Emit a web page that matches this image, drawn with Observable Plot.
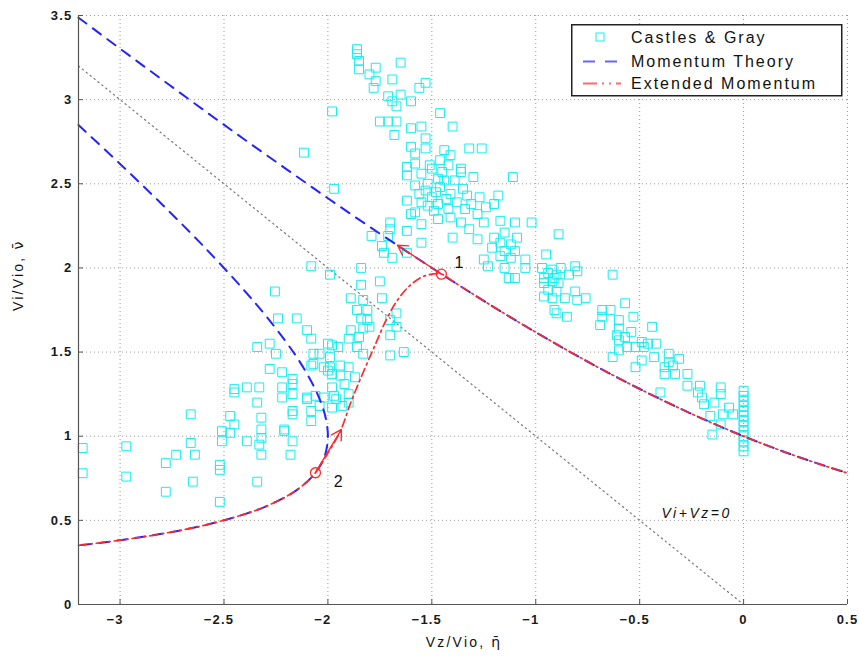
<!DOCTYPE html>
<html><head><meta charset="utf-8">
<script src="https://cdn.jsdelivr.net/npm/d3@7"></script>
<script src="https://cdn.jsdelivr.net/npm/@observablehq/plot@0.6"></script>
<style>
body{margin:0;background:#fff;}
#wrap{position:relative;width:859px;height:665px;}
#legend{position:absolute;left:571px;top:24px;}
</style></head><body><div id="wrap"></div>
<script>
// ---- axes ----
const xTicks = [-3, -2.5, -2, -1.5, -1, -0.5, 0, 0.5];
const yTicks = [0, 0.5, 1, 1.5, 2, 2.5, 3, 3.5];
const xDomain = [-3.2, 0.5];
const yDomain = [0, 3.5];

// ---- Castles & Gray data [eta, nu] ----
const castlesUpper = [
[-1.86,3.30],[-1.86,3.27],[-1.85,3.23],[-1.85,3.18],[-1.77,3.19],[-1.80,3.15],[-1.65,3.22],[-1.77,3.11],[-1.78,3.07],[-1.69,3.12],
[-1.53,3.10],[-1.56,3.07],[-1.71,3.02],[-1.69,2.99],[-1.65,3.03],[-1.60,2.99],[-1.67,2.96],[-1.98,2.93],[-1.46,2.92],[-1.75,2.87],
[-1.71,2.87],[-1.67,2.87],[-1.60,2.83],[-1.55,2.84],[-1.40,2.84],[-1.68,2.79],[-1.53,2.77],[-1.60,2.72],[-1.53,2.71],[-1.58,2.68],
[-1.44,2.70],[-1.32,2.71],[-1.26,2.71],[-1.41,2.67],[-1.46,2.64],[-1.58,2.62],[-1.51,2.61],[-1.36,2.59],[-1.50,2.59],[-1.55,2.56],
[-1.47,2.53],[-1.36,2.57],[-1.30,2.54],[-1.11,2.54],[-1.97,2.47],[-1.58,2.49],[-1.53,2.46],[-1.46,2.48],[-1.41,2.44],[-1.50,2.42],
[-1.62,2.40],[-1.55,2.39],[-1.47,2.38],[-1.38,2.39],[-1.31,2.38],[-1.18,2.43],[-1.20,2.38],[-1.42,2.35],[-1.49,2.34],[-1.60,2.32],
[-1.28,2.32],[-1.41,2.30],[-1.25,2.27],[-1.70,2.27],[-1.55,2.26],[-1.17,2.28],[-1.10,2.27],[-1.02,2.27],[-1.32,2.23],[-1.62,2.22],
[-1.70,2.23],[-1.79,2.19],[-1.71,2.19],[-1.40,2.18],[-1.28,2.17],[-1.20,2.18],[-1.15,2.21],[-1.09,2.18],[-0.89,2.20],[-1.55,2.15],
[-1.17,2.15],[-1.12,2.14],[-1.74,2.13],[-1.21,2.12],[-1.15,2.10],[-1.10,2.10],[-1.73,2.09],[-1.62,2.09],[-1.17,2.07],[-0.95,2.08],
[-1.69,2.06],[-1.25,2.05],[-1.12,2.06],[-1.05,2.05],[-1.84,2.00],[-1.23,2.01],[-1.15,2.00],[-1.05,2.00],[-0.97,2.00],[-0.92,1.99],
[-0.88,2.00],[-1.75,1.92],[-1.84,1.90],[-1.13,1.94],[-1.10,1.94],[-0.96,1.94],[-0.91,1.94],
[-1.52,2.50],[-1.44,2.52],[-1.48,2.45],[-1.35,2.47],[-1.43,2.41],[-1.33,2.43],[-1.56,2.44],[-1.39,2.52],[-1.45,2.57],[-1.62,2.55],
[-1.27,2.42],[-1.34,2.35],[-1.24,2.36],[-1.52,2.37],[-1.58,2.33],[-1.36,2.27],[-1.47,2.29],[-1.62,2.60],[-1.42,2.61]
];
const castlesRight = [
[-0.94,1.97],[-0.90,1.96],[-0.81,2.01],[-0.84,1.96],[-0.80,1.98],[-0.63,1.96],[-0.96,1.91],[-0.92,1.92],[-0.89,1.91],[-0.94,1.87],
[-0.90,1.86],[-0.96,1.83],[-0.92,1.82],[-0.86,1.82],[-0.81,1.86],[-0.80,1.81],[-0.76,1.82],[-0.91,1.75],[-0.90,1.73],[-0.85,1.71],
[-0.57,1.79],[-0.68,1.75],[-0.64,1.75],[-0.68,1.71],[-0.53,1.71],[-0.60,1.69],[-0.69,1.66],[-0.44,1.65],[-0.60,1.64],[-0.54,1.62],
[-0.61,1.60],[-0.57,1.59],[-0.60,1.57],[-0.49,1.56],[-0.46,1.55],[-0.42,1.55],[-0.56,1.53],[-0.52,1.53],[-0.48,1.53],[-0.60,1.51],
[-0.43,1.47],[-0.36,1.49],[-0.31,1.46],[-0.63,1.47],[-0.49,1.45],[-0.36,1.44],[-0.52,1.41],[-0.38,1.41],[-0.34,1.42],[-0.38,1.37],
[-0.33,1.37],[-0.27,1.37],[-0.27,1.30],[-0.21,1.30],[-0.11,1.29],[-0.40,1.26],[-0.22,1.26],[-0.20,1.23],[-0.11,1.25],[-0.14,1.20],
[-0.19,1.19],[-0.07,1.17],[-0.10,1.13],[-0.16,1.12],[-0.05,1.13],[-0.11,1.07],[-0.15,1.01],
[0,1.27],[0,1.24],[0,1.21],[0,1.18],[0,1.15],[0,1.12],[0,1.09],[0,1.06],[0,1.03],[0,1.00],[0,0.97],[0,0.94],[0,0.91]
];
const castlesLeft = [
[-2.115,2.685],[-2.08,2.01],[-1.99,1.96],[-2.255,1.86],[-2.24,1.70],[-2.15,1.70],[-2.10,1.63],[-2.08,1.58],[-2.34,1.53],[-2.28,1.55],
[-2.25,1.49],[-2.04,1.49],[-2.00,1.55],[-1.99,1.47],[-2.08,1.42],[-2.28,1.40],[-2.22,1.38],[-2.17,1.34],[-2.17,1.31],[-2.00,1.39],
[-2.45,1.28],[-2.39,1.29],[-2.22,1.29],[-1.89,1.82],[-1.83,1.81],[-1.74,1.82],[-1.86,1.75],[-1.81,1.75],[-1.67,1.73],[-1.84,1.70],
[-1.81,1.69],[-1.70,1.69],[-1.67,1.65],[-1.89,1.63],[-1.83,1.64],[-1.80,1.65],[-1.70,1.60],[-1.90,1.58],[-1.85,1.59],[-1.98,1.54],
[-1.95,1.53],[-1.86,1.53],[-1.83,1.49],[-1.70,1.48],[-1.635,1.50],[-2.07,1.49],[-2.07,1.43],[-2.02,1.41],[-1.99,1.41],[-1.94,1.42],
[-1.90,1.41],[-1.98,1.37],[-1.94,1.36],[-1.92,1.31],[-1.87,1.35],[-2.33,1.29],[-1.98,1.29],[-2.10,1.23],[-2.06,1.24],[-2.02,1.23],
[-1.97,1.24],[-1.90,1.25],[-2.34,1.20],[-2.17,1.15],[-2.17,1.13],[-2.08,1.15],[-1.98,1.17],[-1.90,1.20],[-2.32,1.11],[-2.21,1.04],
[-2.08,1.09],[-2.32,1.04],[-2.32,0.99],[-2.17,0.97],[-2.32,0.89],[-2.18,0.89],[-2.45,1.26],[-2.22,1.23],[-2.17,1.25],[-2.10,1.22],
[-2.04,1.18],[-1.96,1.22],[-1.93,1.18],[-2.66,1.13],[-2.47,1.12],[-2.45,1.07],[-2.51,1.03],[-2.47,1.02],[-2.21,1.03],[-2.51,0.97],
[-2.39,0.97],[-2.33,0.95],[-2.66,0.96],[-2.73,0.89],[-2.64,0.89],[-2.78,0.84],[-2.52,0.83],[-2.52,0.80],[-3.18,0.93],[-2.97,0.94],
[-3.18,0.78],[-2.97,0.76],[-2.65,0.73],[-2.34,0.73],[-2.78,0.67],[-2.52,0.61]
];

// ---- Momentum theory ----
const momUpperEta = [-3.2,-3.0,-2.8,-2.6,-2.4,-2.2,-2.0,-1.8,-1.6,-1.4,-1.2,-1.0,-0.8,-0.6,-0.4,-0.2,0,0.2,0.4,0.5];
const momUpperNu  = [3.487,3.303,3.121,2.940,2.762,2.587,2.414,2.245,2.081,1.921,1.766,1.618,1.477,1.344,1.220,1.105,1.0,0.905,0.820,0.781];
const momWindEta = [-3.2,-3.0,-2.8,-2.6,-2.4,-2.3,-2.2,-2.15,-2.1,-2.06,-2.03,-2.01,-2.0,-2.01,-2.03,-2.06,-2.1,-2.15,-2.2,-2.3,-2.4,-2.6,-2.8,-3.0,-3.2];
const momWindNu  = [2.849,2.618,2.380,2.131,1.863,1.718,1.558,1.470,1.370,1.277,1.189,1.105,1.0,0.905,0.841,0.783,0.730,0.680,0.642,0.582,0.537,0.469,0.420,0.382,0.351];

// ---- Extended momentum ----
const extEta = [-3.2,-3.0,-2.8,-2.6,-2.4,-2.3,-2.2,-2.15,-2.1,-2.06,-2.0,-1.94,-1.89,-1.83,-1.77,-1.72,-1.67,-1.61,-1.54,-1.454,-1.4,-1.2,-1.0,-0.8,-0.6,-0.4,-0.2,0,0.2,0.4,0.5];
const extNu  = [0.351,0.382,0.420,0.469,0.537,0.582,0.642,0.680,0.730,0.783,0.90,1.03,1.20,1.38,1.55,1.69,1.80,1.89,1.95,1.963,1.921,1.766,1.618,1.477,1.344,1.220,1.105,1.0,0.905,0.820,0.781];

// ---- Vi+Vz=0 line ----
const zeroLineEta = [-3.2, 0];
const zeroLineNu = [3.2, 0];

// ---- marked points, arrows, labels ----
const markEta = [-1.454, -2.06];
const markNu = [1.963, 0.783];
const markText = ["1", "2"];
const markTextEta = [-1.37, -1.95];
const markTextNu = [2.03, 0.73];
const arrowFromEta = [-1.454, -2.06];
const arrowFromNu = [1.963, 0.783];
const arrowToEta = [-1.665, -1.935];
const arrowToNu = [2.135, 1.04];
const noteText = ["Vi+Vz=0"];
const noteEta = [-0.226];
const noteNu = [0.543];

const xTitleMain = "Vz/Vio, ";
const xTitleSym = "\u03B7\u0304";
const yTitleMain = "Vi/Vio, ";
const yTitleSym = "\u03BD\u0304";
const legendLabels = ["Castles & Gray", "Momentum Theory", "Extended Momentum"];

// ---- build tables ----
const pairs = a => a.map(([x, y]) => ({x, y}));
const zipXY = (xs, ys) => xs.map((x, i) => ({x, y: ys[i]}));
const castles = [...pairs(castlesUpper), ...pairs(castlesRight), ...pairs(castlesLeft)];
const momUpper = zipXY(momUpperEta, momUpperNu);
const momWind = zipXY(momWindEta, momWindNu);
const ext = zipXY(extEta, extNu);
const zeroLine = zipXY(zeroLineEta, zeroLineNu);
const marks = zipXY(markEta, markNu);
const markLabels = markText.map((t, i) => ({t, x: markTextEta[i], y: markTextNu[i]}));
const arrows = arrowFromEta.map((x1, i) => ({x1, y1: arrowFromNu[i], x2: arrowToEta[i], y2: arrowToNu[i]}));
const notes = noteText.map((t, i) => ({t, x: noteEta[i], y: noteNu[i]}));
const xNeg = xTicks.filter(d => d < 0), xPos = xTicks.filter(d => d >= 0);
const fmt = d => (d < 0 ? "\u2212" : "") + Math.abs(d);

const BLUE = "#2424ff", RED = "#ff2a2a", CYAN = "#14eef0";
const tickLabelOpts = {tickSize: 0, tickPadding: 9, label: null, fontSize: 13, tickFormat: fmt, fill: "#1a1a1a"};

const chart = Plot.plot({
  width: 859, height: 665,
  marginLeft: 78, marginRight: 12, marginTop: 15, marginBottom: 61,
  x: {domain: xDomain},
  y: {domain: yDomain},
  style: {fontFamily: "Liberation Sans, Arial, sans-serif", fontSize: "13px", color: "#000", background: "#fff"},
  marks: [
    Plot.gridX(xTicks, {stroke: "#9a9a9a", strokeOpacity: 1, strokeDasharray: "1,3"}),
    Plot.gridY(yTicks, {stroke: "#9a9a9a", strokeOpacity: 1, strokeDasharray: "1,3"}),
    Plot.line(zeroLine, {x: "x", y: "y", stroke: "#777", strokeWidth: 1.2, strokeDasharray: "1.3,3.7"}),
    Plot.dot(castles, {x: "x", y: "y", symbol: "square", r: 5, stroke: CYAN, fill: "none", strokeWidth: 1}),
    Plot.line(momUpper, {x: "x", y: "y", stroke: BLUE, strokeWidth: 2, strokeDasharray: "10,8", curve: "catmull-rom"}),
    Plot.line(momWind, {x: "x", y: "y", stroke: BLUE, strokeWidth: 2, strokeDasharray: "10,8", curve: "catmull-rom"}),
    Plot.line(ext, {x: "x", y: "y", stroke: RED, strokeWidth: 1.7, strokeDasharray: "8,4,2,4", curve: "catmull-rom"}),
    Plot.arrow(arrows, {x1: "x1", y1: "y1", x2: "x2", y2: "y2", stroke: RED, strokeWidth: 1.4, headLength: 12}),
    Plot.dot(marks, {x: "x", y: "y", r: 5, stroke: RED, fill: "none", strokeWidth: 1.3}),
    Plot.text(markLabels, {x: "x", y: "y", text: "t", fontSize: 16, fill: "#111"}),
    Plot.text(notes, {x: "x", y: "y", text: "t", fontSize: 14, fontStyle: "italic", fill: "#111", className: "note"}),
    Plot.ruleX([xDomain[0]], {stroke: "#555", strokeWidth: 1.2}),
    Plot.ruleY([yDomain[0]], {stroke: "#555", strokeWidth: 1.2}),
    Plot.axisX({ticks: xTicks, tickSize: -5, tickFormat: () => "", label: null, stroke: "#555"}),
    Plot.axisY({ticks: yTicks, tickSize: -5, tickFormat: () => "", label: null, stroke: "#555"}),
    Plot.axisX({ticks: xNeg, ...tickLabelOpts, dx: -5, tickPadding: 10}),
    Plot.axisX({ticks: xPos, ...tickLabelOpts, tickPadding: 10}),
    Plot.axisY({ticks: yTicks, ...tickLabelOpts, tickPadding: 6}),
    Plot.text([xTitleMain], {frameAnchor: "bottom", dy: 42, fontSize: 14, fill: "#111", className: "xtitle"}),
    Plot.text([yTitleMain], {frameAnchor: "left", dx: -60, dy: 1, rotate: -90, fontSize: 14, fill: "#111", className: "ytitle"})
  ]
});
const wrap = document.getElementById("wrap");
wrap.appendChild(chart);

// tick label styling (MATLAB-like wide bold digits)
d3.select(chart).selectAll('g[aria-label="x-axis tick label"] text, g[aria-label="y-axis tick label"] text')
  .attr("font-weight", "bold").attr("letter-spacing", "1.2px");
// titles with barred greek symbol
function titleWithSym(cls, main, sym) {
  d3.select(chart).selectAll("." + cls + " text").each(function() {
    const t = d3.select(this);
    t.text(null).attr("letter-spacing", "2.2px");
    t.append("tspan").text(main);
    t.append("tspan").attr("font-family", "DejaVu Sans, sans-serif").attr("letter-spacing", "0px").text(sym);
  });
}
titleWithSym("xtitle", xTitleMain, xTitleSym);
titleWithSym("ytitle", yTitleMain, yTitleSym);
d3.select(chart).selectAll(".note text").attr("letter-spacing", "2.5px");

// ---- legend overlay ----
const ns = "http://www.w3.org/2000/svg";
const leg = document.createElementNS(ns, "svg");
leg.setAttribute("id", "legend");
leg.setAttribute("width", 272);
leg.setAttribute("height", 73);
const lg = d3.select(leg);
lg.append("rect").attr("x", 0.75).attr("y", 0.75).attr("width", 270).attr("height", 71)
  .attr("fill", "#fff").attr("stroke", "#222").attr("stroke-width", 1.5);
const rowY = [13, 37.5, 59.5];
lg.append("rect").attr("x", 25).attr("y", rowY[0] - 4).attr("width", 8).attr("height", 8)
  .attr("fill", "none").attr("stroke", CYAN).attr("stroke-width", 1);
lg.append("line").attr("x1", 12).attr("x2", 48).attr("y1", rowY[1]).attr("y2", rowY[1])
  .attr("stroke", BLUE).attr("stroke-opacity", 0.7).attr("stroke-width", 2).attr("stroke-dasharray", "12,10");
lg.append("line").attr("x1", 12).attr("x2", 50).attr("y1", rowY[2]).attr("y2", rowY[2])
  .attr("stroke", RED).attr("stroke-opacity", 0.7).attr("stroke-width", 2).attr("stroke-dasharray", "14,5,2,5,2,5");
legendLabels.forEach((t, i) => {
  lg.append("text").attr("x", 60).attr("y", rowY[i]).attr("dy", "0.35em")
    .attr("font-family", "Liberation Sans, Arial, sans-serif").attr("font-size", 16)
    .attr("letter-spacing", "2px").attr("fill", "#111").text(t);
});
wrap.appendChild(leg);
</script>
</body></html>
